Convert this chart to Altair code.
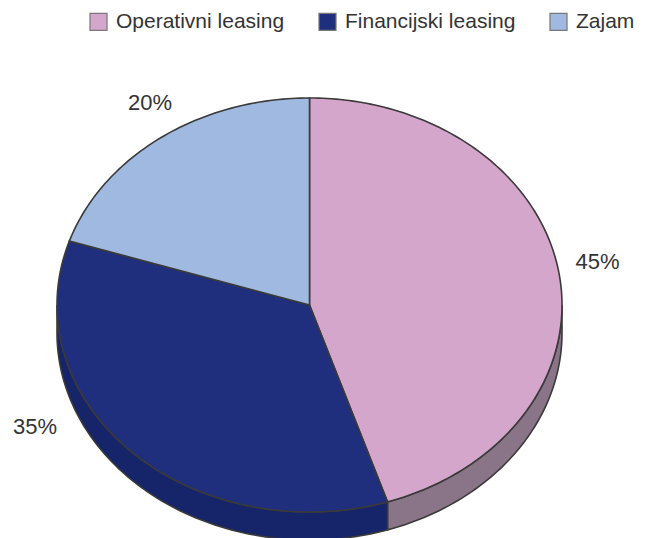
import math
import altair as alt

categories = ["Operativni leasing", "Financijski leasing", "Zajam"]
shares = [45, 35, 20]
label_texts = ["45%", "35%", "20%"]
label_lon = [1.141, -1.087, -0.632]
label_lat = [0.170, -0.483, 0.800]
top_colors = ["#d4a6cc", "#1f2f7e", "#a0b9e0"]
wall_colors = ["#8a7488", "#16246a", "#7f93b5"]

RATIO = 207 / 252.5
DEPTH = 28 / 252.5
STEP = 1.0


def pt(deg, drop=0.0):
    r = math.radians(deg)
    return [math.sin(r), RATIO * math.cos(r) - drop]


def arc(a, b):
    n = max(2, int(abs(b - a) / STEP) + 1)
    return [a + (b - a) * i / (n - 1) for i in range(n)]


tops, walls = [], []
cum = 0.0
for name, share, wall in zip(categories, shares, wall_colors):
    a, b = cum * 3.6, (cum + share) * 3.6
    cum += share
    ring = [[0.0, 0.0]] + [pt(d) for d in arc(a, b)] + [[0.0, 0.0]]
    tops.append({"type": "Feature", "properties": {"name": name},
                 "geometry": {"type": "Polygon", "coordinates": [ring]}})
    lo, hi = max(a, 90.0), min(b, 270.0)
    if hi > lo:
        degs = arc(lo, hi)
        ring = [pt(d) for d in degs] + [pt(d, DEPTH) for d in reversed(degs)]
        ring.append(ring[0])
        walls.append({"type": "Feature", "properties": {"name": name, "wall": wall},
                      "geometry": {"type": "Polygon", "coordinates": [ring]}})

projection = dict(type="identity", reflectY=True, scale=252.5, translate=[301.5, 297])
fmt = alt.DataFormat(property="features", type="json")

wall_layer = alt.Chart(
    alt.InlineData(values={"type": "FeatureCollection", "features": walls}, format=fmt)
).mark_geoshape(stroke="#3a3a3a", strokeWidth=1.6).encode(
    fill=alt.Fill("properties.wall:N", scale=None)
).project(**projection)

top_layer = alt.Chart(
    alt.InlineData(values={"type": "FeatureCollection", "features": tops}, format=fmt)
).mark_geoshape(stroke="#3a3a3a", strokeWidth=1.6).encode(
    color=alt.Color(
        "properties.name:N",
        scale=alt.Scale(domain=categories, range=top_colors),
        legend=alt.Legend(
            title=None, orient="none", legendX=80, legendY=3, direction="horizontal",
            columns=3, columnPadding=31, symbolType="square", symbolSize=290,
            symbolStrokeColor="#777777", symbolStrokeWidth=1.2, symbolOpacity=1,
            labelFont="Liberation Sans", labelFontSize=21, labelColor="#333333",
            labelOffset=7, labelLimit=300, padding=0,
        ),
    )
).project(**projection)

label_layer = alt.Chart(
    alt.Data(values=[{"t": t, "lon": x, "lat": y}
                     for t, x, y in zip(label_texts, label_lon, label_lat)])
).mark_text(font="Liberation Sans", fontSize=22, color="#333333",
            align="center", baseline="middle").encode(
    longitude="lon:Q", latitude="lat:Q", text="t:N"
).project(**projection)

chart = alt.layer(wall_layer, top_layer, label_layer).resolve_scale(
    color="independent"
).properties(
    width=646, height=530, padding=0, background="white",
    autosize=alt.AutoSizeParams(type="none"),
).configure_view(stroke=None)

chart.save("out.html", embed_options={"renderer": "svg", "actions": False})
